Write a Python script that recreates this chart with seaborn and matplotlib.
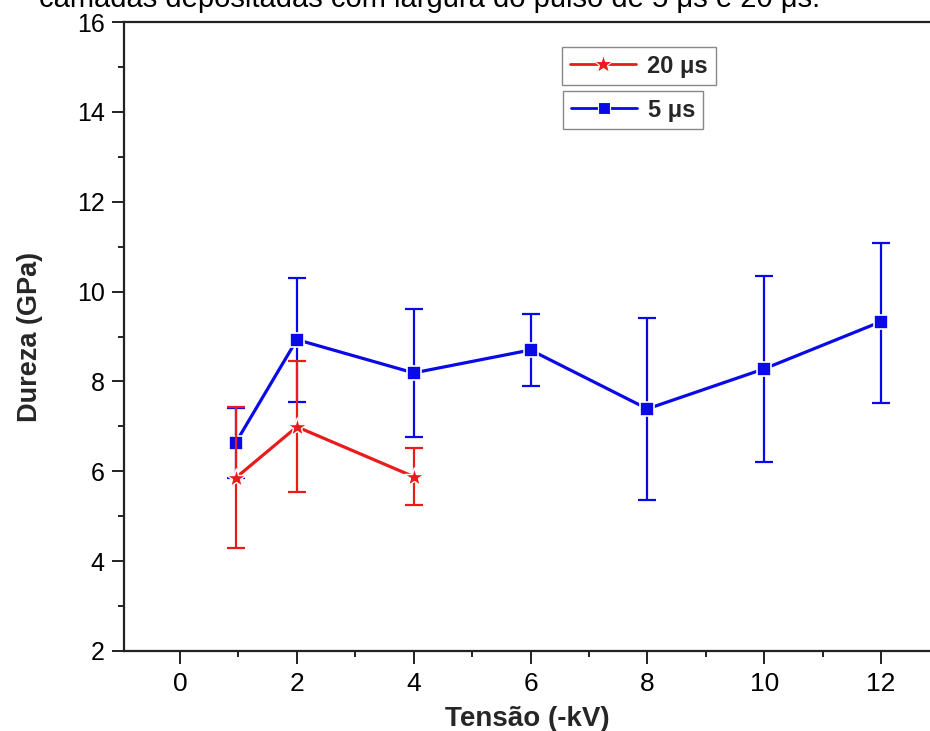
import matplotlib
matplotlib.use("Agg")
import matplotlib.pyplot as plt
import seaborn as sns
import pandas as pd
from matplotlib.lines import Line2D
from matplotlib.ticker import MultipleLocator

# ---- data ----
x_5us = [0.95, 2, 4, 6, 8, 10, 12]
y_5us = [6.63, 8.93, 8.19, 8.70, 7.39, 8.28, 9.33]
err_lo_5us = [0.78, 1.38, 1.42, 0.80, 2.03, 2.07, 1.81]
err_hi_5us = [0.78, 1.38, 1.43, 0.81, 2.03, 2.07, 1.76]

x_20us = [0.95, 2, 4]
y_20us = [5.85, 6.99, 5.88]
err_lo_20us = [1.56, 1.45, 0.63]
err_hi_20us = [1.58, 1.47, 0.64]

label_5us = "5 μs"
label_20us = "20 μs"
xlabel = "Tensão (-kV)"
ylabel = "Dureza (GPa)"
caption = "camadas depositadas com largura do pulso de 5 μs e 20 μs."

blue = "#0a0ae6"
red = "#e81c1c"

sns.set_theme(style="ticks")
plt.rcParams["font.family"] = ["Liberation Sans", "DejaVu Sans"]

fig = plt.figure(figsize=(9.3, 7.31), dpi=100)
ax = fig.add_axes([124 / 930, 80 / 731, 806 / 930, 629 / 731])

df5 = pd.DataFrame({"x": x_5us, "y": y_5us})
df20 = pd.DataFrame({"x": x_20us, "y": y_20us})

# error bars
ax.errorbar(x_5us, y_5us, yerr=[err_lo_5us, err_hi_5us], fmt="none",
            ecolor=blue, elinewidth=1.6, capsize=6.5, capthick=1.6, zorder=2)
sns.lineplot(data=df5, x="x", y="y", ax=ax, color=blue, linewidth=2.3,
             marker="s", markersize=10, markeredgecolor="white",
             markeredgewidth=1.2, zorder=3, legend=False)

ax.errorbar(x_20us, y_20us, yerr=[err_lo_20us, err_hi_20us], fmt="none",
            ecolor=red, elinewidth=1.6, capsize=6.5, capthick=1.6, zorder=4)
sns.lineplot(data=df20, x="x", y="y", ax=ax, color=red, linewidth=2.3,
             marker="*", markersize=15, markeredgecolor="white",
             markeredgewidth=1.0, zorder=5, legend=False)

ax.set_xlim(-0.96, 12.84)
ax.set_ylim(2, 16)
ax.xaxis.set_major_locator(MultipleLocator(2))
ax.xaxis.set_minor_locator(MultipleLocator(1))
ax.yaxis.set_major_locator(MultipleLocator(2))
ax.yaxis.set_minor_locator(MultipleLocator(1))

for side in ["left", "bottom", "top"]:
    ax.spines[side].set_linewidth(1.6)
    ax.spines[side].set_color("#222222")
ax.spines["right"].set_visible(False)

ax.tick_params(axis="both", which="major", direction="out", length=9,
               width=1.4, colors="#222222")
ax.tick_params(axis="both", which="minor", direction="out", length=4.5,
               width=1.4, colors="#222222")
ax.tick_params(axis="x", which="major", labelsize=19, pad=6)
ax.tick_params(axis="y", which="major", labelsize=18, pad=5)
ax.tick_params(top=False, right=False, which="both")
for lab in ax.get_xticklabels() + ax.get_yticklabels():
    lab.set_color("black")

ax.set_xlabel(xlabel, fontsize=20, fontweight="bold", labelpad=7)
ax.set_ylabel(ylabel, fontsize=19.5, fontweight="bold", labelpad=24)

# legends (two separate boxes)
h20 = Line2D([], [], color=red, linewidth=2, marker="*", markersize=14,
             markeredgecolor="white", markeredgewidth=0.8)
h5 = Line2D([], [], color=blue, linewidth=2, marker="s", markersize=9,
            markeredgecolor="white", markeredgewidth=0.8)
leg_kw = dict(loc="upper left", frameon=True, fancybox=False,
              framealpha=1, edgecolor="#888888", handlelength=2.8,
              handletextpad=0.5, borderpad=0.32, borderaxespad=0,
              prop={"weight": "bold", "size": 17})
leg1 = ax.legend([h20], [label_20us], bbox_to_anchor=(562 / 930, 1 - 47 / 731),
                 bbox_transform=fig.transFigure, **leg_kw)
leg1.get_frame().set_linewidth(1.0)
ax.add_artist(leg1)
leg2 = ax.legend([h5], [label_5us], bbox_to_anchor=(563 / 930, 1 - 91 / 731),
                 bbox_transform=fig.transFigure, **leg_kw)
leg2.get_frame().set_linewidth(1.0)

fig.text(39 / 930, 1 - 7 / 731, caption, fontsize=21, ha="left",
         va="baseline", color="black")

fig.savefig("out.png", dpi=100)
